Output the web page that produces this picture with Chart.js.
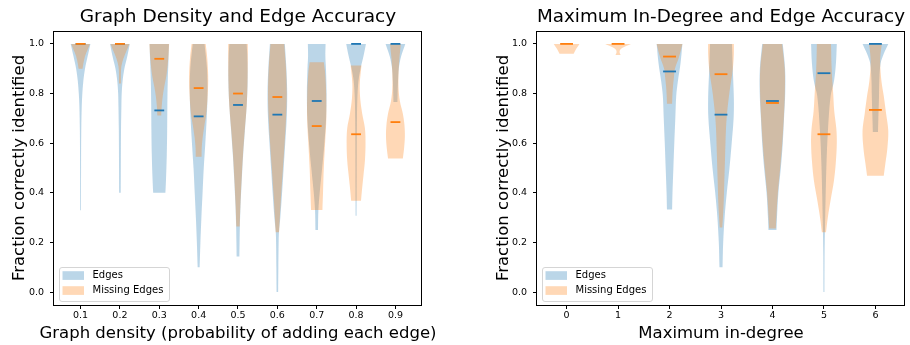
<!DOCTYPE html>
<html lang="en">
<head>
<meta charset="UTF-8">
<title>Edge accuracy violins</title>
<script src="https://cdn.jsdelivr.net/npm/chart.js"></script>
<style>
  body { margin: 0; background: #fff; }
  .panel { position: absolute; top: 0; width: 455px; height: 345px; }
</style>
</head>
<body>
<div class="panel" style="left:0"><canvas id="densityChart" width="455" height="345"></canvas></div>
<div class="panel" style="left:455px"><canvas id="degreeChart" width="455" height="345"></canvas></div>
<script>
// ---- values ----
const yTicks = [0, 0.2, 0.4, 0.6, 0.8, 1.0];

const densityLabels = ['0.1', '0.2', '0.3', '0.4', '0.5', '0.6', '0.7', '0.8', '0.9'];
const densityEdgeMeans = [1.0, 1.0, 0.732, 0.708, 0.754, 0.715, 0.77, 1.0, 1.0];
const densityMissingMeans = [1.0, 1.0, 0.94, 0.822, 0.80, 0.786, 0.669, 0.636, 0.685];
// violin outlines: [value, half width as share of the widest], bottom to top
const densityEdgeShapes = [
  [[0.33, 0.04], [0.5, 0.05], [0.65, 0.07], [0.75, 0.12], [0.8, 0.18], [0.85, 0.28], [0.9, 0.45], [0.95, 0.72], [1.0, 1.0]],
  [[0.40, 0.08], [0.5, 0.09], [0.65, 0.11], [0.75, 0.15], [0.8, 0.18], [0.85, 0.27], [0.9, 0.45], [0.95, 0.75], [1.0, 1.0]],
  [[0.40, 0.62], [0.45, 0.68], [0.55, 0.76], [0.65, 0.8], [0.75, 0.82], [0.85, 0.86], [0.95, 0.95], [1.0, 0.98]],
  [[0.10, 0.1], [0.2, 0.18], [0.3, 0.28], [0.4, 0.4], [0.5, 0.52], [0.6, 0.68], [0.7, 0.82], [0.8, 0.9], [0.9, 0.85], [1.0, 0.6]],
  [[0.143, 0.14], [0.2, 0.16], [0.264, 0.19], [0.35, 0.26], [0.45, 0.38], [0.55, 0.52], [0.65, 0.7], [0.75, 0.88], [0.85, 0.98], [0.95, 0.95], [1.0, 0.88]],
  [[0.0, 0.08], [0.1, 0.1], [0.2, 0.13], [0.24, 0.16], [0.3, 0.3], [0.4, 0.48], [0.5, 0.64], [0.6, 0.8], [0.7, 0.95], [0.8, 1.0], [0.9, 0.92], [1.0, 0.76]],
  [[0.25, 0.13], [0.33, 0.17], [0.4, 0.3], [0.5, 0.55], [0.6, 0.78], [0.7, 0.95], [0.8, 1.0], [0.9, 0.94], [0.95, 0.88], [1.0, 0.9]],
  [[0.308, 0.05], [0.4, 0.06], [0.55, 0.07], [0.7, 0.09], [0.78, 0.13], [0.85, 0.24], [0.9, 0.45], [0.95, 0.75], [1.0, 1.0]],
  [[0.766, 0.2], [0.8, 0.22], [0.85, 0.26], [0.9, 0.34], [0.95, 0.58], [1.0, 1.0]]
];
const densityMissingShapes = [
  [[0.90, 0.2], [0.92, 0.28], [0.95, 0.45], [0.975, 0.7], [1.0, 0.95]],
  [[0.84, 0.1], [0.88, 0.1], [0.91, 0.15], [0.94, 0.35], [0.97, 0.65], [1.0, 0.95]],
  [[0.712, 0.2], [0.745, 0.24], [0.786, 0.34], [0.826, 0.5], [0.88, 0.75], [0.946, 0.92], [1.0, 1.0]],
  [[0.545, 0.3], [0.58, 0.31], [0.62, 0.4], [0.67, 0.58], [0.72, 0.78], [0.8, 0.93], [0.87, 0.97], [0.94, 0.88], [1.0, 0.72]],
  [[0.264, 0.17], [0.35, 0.24], [0.45, 0.36], [0.55, 0.5], [0.65, 0.68], [0.75, 0.88], [0.85, 0.97], [0.95, 1.0], [1.0, 1.0]],
  [[0.241, 0.17], [0.3, 0.25], [0.4, 0.4], [0.5, 0.57], [0.6, 0.74], [0.7, 0.88], [0.8, 0.95], [0.9, 0.88], [1.0, 0.7]],
  [[0.331, 0.58], [0.4, 0.64], [0.5, 0.72], [0.6, 0.85], [0.7, 0.98], [0.8, 0.96], [0.88, 0.86], [0.926, 0.72]],
  [[0.368, 0.5], [0.42, 0.62], [0.47, 0.75], [0.53, 0.9], [0.6, 0.96], [0.66, 0.9], [0.72, 0.62], [0.78, 0.42], [0.84, 0.38], [0.913, 0.55]],
  [[0.538, 0.75], [0.58, 0.88], [0.63, 0.96], [0.68, 0.9], [0.72, 0.75], [0.77, 0.45], [0.82, 0.32], [0.88, 0.32], [0.94, 0.4], [1.0, 0.55]]
];

const degreeLabels = ['0', '1', '2', '3', '4', '5', '6'];
const degreeEdgeMeans = [null, null, 0.889, 0.715, 0.77, 0.882, 1.0];
const degreeMissingMeans = [1.0, 1.0, 0.949, 0.878, 0.762, 0.636, 0.734];
const degreeEdgeShapes = [
  null,
  null,
  [[0.333, 0.2], [0.4, 0.23], [0.5, 0.3], [0.6, 0.37], [0.7, 0.45], [0.79, 0.52], [0.85, 0.65], [0.92, 0.85], [1.0, 1.0]],
  [[0.1, 0.12], [0.2, 0.17], [0.3, 0.28], [0.4, 0.45], [0.5, 0.66], [0.6, 0.83], [0.7, 0.98], [0.78, 1.0], [0.88, 0.93], [1.0, 0.85]],
  [[0.25, 0.31], [0.3, 0.35], [0.4, 0.46], [0.5, 0.65], [0.6, 0.8], [0.7, 0.9], [0.8, 0.99], [0.9, 0.98], [1.0, 0.8]],
  [[0.0, 0.04], [0.15, 0.05], [0.25, 0.08], [0.384, 0.13], [0.52, 0.2], [0.65, 0.31], [0.79, 0.52], [0.85, 0.78], [0.92, 0.93], [1.0, 1.0]],
  [[0.645, 0.2], [0.7, 0.23], [0.79, 0.28], [0.86, 0.31], [0.92, 0.4], [0.96, 0.65], [1.0, 1.0]]
];
const degreeMissingShapes = [
  [[0.96, 0.55], [0.98, 0.75], [1.0, 1.0]],
  [[0.955, 0.2], [0.965, 0.12], [0.975, 0.15], [0.985, 0.35], [1.0, 1.0]],
  [[0.759, 0.2], [0.8, 0.23], [0.83, 0.27], [0.87, 0.35], [0.9, 0.42], [0.946, 0.73], [1.0, 1.0]],
  [[0.26, 0.1], [0.35, 0.2], [0.45, 0.26], [0.55, 0.32], [0.65, 0.38], [0.72, 0.47], [0.81, 0.67], [0.9, 0.92], [0.96, 1.0], [1.0, 1.0]],
  [[0.256, 0.26], [0.3, 0.3], [0.4, 0.42], [0.5, 0.6], [0.6, 0.76], [0.7, 0.88], [0.8, 0.96], [0.9, 0.95], [1.0, 0.75]],
  [[0.241, 0.16], [0.3, 0.3], [0.38, 0.55], [0.45, 0.78], [0.52, 0.92], [0.6, 1.0], [0.66, 0.96], [0.73, 0.8], [0.8, 0.72], [0.9, 0.6], [1.0, 0.55]],
  [[0.469, 0.65], [0.52, 0.78], [0.58, 0.93], [0.65, 1.0], [0.72, 0.83], [0.79, 0.65], [0.85, 0.47], [0.92, 0.37], [0.96, 0.4], [1.0, 0.5]]
];

// ---- styling ----
const HALF = 0.25; // widest half width of a violin, in axis units
const edgeFill = 'rgba(31, 119, 180, 0.3)';
const missingFill = 'rgba(255, 127, 14, 0.3)';
const edgeLine = '#1f77b4';
const missingLine = '#ff7f0e';

Chart.defaults.font.family = '"DejaVu Sans", sans-serif';
Chart.defaults.color = '#000';

function outline(shape, pos) {
  const left = shape.map(([y, w]) => ({x: pos - w * HALF, y: y}));
  const right = shape.map(([y, w]) => ({x: pos + w * HALF, y: y})).reverse();
  // top corners twice so the spline keeps the top edge flat
  return [...left, left[left.length - 1], right[0], ...right];
}

function violinSets(shapes, color, order) {
  return shapes.map((s, i) => s && {
    type: 'scatter',
    data: outline(s, i + 1),
    showLine: true,
    fill: 'shape',
    backgroundColor: color,
    borderWidth: 0,
    pointRadius: 0,
    tension: 0.35,
    order: order
  }).filter(Boolean);
}

function meanSet(means, color, order) {
  return {
    type: 'scatter',
    data: means.map((m, i) => m === null ? null : {x: i + 1, y: m}).filter(Boolean),
    pointStyle: 'line',
    // mean line is half the violin width long
    pointRadius: (ctx) => {
      const s = ctx.chart.scales.x;
      return Math.abs(s.getPixelForValue(1 + HALF / 2) - s.getPixelForValue(1));
    },
    pointBorderColor: color,
    pointBorderWidth: 1.8,
    order: order
  };
}

// legend inside the axes, the box frame and the x title (wider than the axis)
const frameLegend = {
  id: 'frameLegend',
  afterDatasetsDraw(chart, args, opts) {
    const {ctx, chartArea: a} = chart;
    ctx.save();
    const bx = a.left + 5.5, by = a.bottom - 37.5;
    ctx.beginPath();
    ctx.roundRect(bx, by, 110, 34, 2.5);
    ctx.fillStyle = 'rgba(255,255,255,0.8)';
    ctx.fill();
    ctx.strokeStyle = '#d5d5d5';
    ctx.lineWidth = 1;
    ctx.stroke();
    const items = [['Edges', edgeFill], ['Missing Edges', missingFill]];
    ctx.font = '10px "DejaVu Sans"';
    ctx.textBaseline = 'middle';
    items.forEach(([text, color], k) => {
      const cy = by + 8 + k * 15;
      ctx.fillStyle = color;
      ctx.fillRect(bx + 3, cy - 4.3, 21.5, 8.7);
      ctx.fillStyle = '#000';
      ctx.fillText(text, bx + 33, cy);
    });
    ctx.strokeStyle = '#000';
    ctx.lineWidth = 1;
    ctx.strokeRect(a.left - 0.5, a.top + 0.5, a.right - a.left, a.bottom - a.top);

    ctx.font = '16.5px "DejaVu Sans"';
    ctx.textAlign = 'center';
    ctx.fillStyle = '#000';
    ctx.fillText(opts.xTitle, (a.left + a.right) / 2, 333.6);
    ctx.restore();
  }
};

function makeChart(id, o) {
  const n = o.labels.length;
  return new Chart(document.getElementById(id), {
    type: 'scatter',
    data: {
      // bodies first, mean lines over them
      datasets: [
        ...violinSets(o.edgeShapes, edgeFill, 4),
        ...violinSets(o.missingShapes, missingFill, 3),
        meanSet(o.edgeMeans, edgeLine, 2),
        meanSet(o.missingMeans, missingLine, 1)
      ]
    },
    options: {
      responsive: false,
      animation: false,
      events: [],
      devicePixelRatio: 1,
      layout: {padding: {left: 0, right: o.rightPad, top: 0, bottom: 0}},
      plugins: {
        legend: {display: false},
        tooltip: {enabled: false},
        frameLegend: {xTitle: o.xTitle},
        title: {
          display: true,
          text: o.title,
          fullSize: false,
          font: {size: 18.5, weight: 'normal'},
          color: '#000',
          padding: {top: 6.5, bottom: 2.3}
        }
      },
      scales: {
        x: {
          type: 'linear',
          min: 1 - HALF - 0.05 * (n - 1 + 2 * HALF),
          max: n + HALF + 0.05 * (n - 1 + 2 * HALF),
          afterBuildTicks: (s) => { s.ticks = o.labels.map((_, i) => ({value: i + 1})); },
          afterFit: (s) => { s.height = 40; },
          ticks: {
            autoSkip: false,
            maxRotation: 0,
            padding: 1,
            font: {size: 9.5},
            callback: (v) => o.labels[Math.round(v) - 1]
          },
          grid: {drawOnChartArea: false, drawTicks: true, tickLength: 4, color: '#000'},
          border: {display: false}
        },
        y: {
          type: 'linear',
          min: -0.052,
          max: 1.052,
          afterBuildTicks: (s) => { s.ticks = yTicks.map((v) => ({value: v})); },
          afterFit: (s) => { s.width = o.yWidth; },
          ticks: {padding: 6, font: {size: 9.5}, callback: (v) => v.toFixed(1)},
          grid: {drawOnChartArea: false, drawTicks: true, tickLength: 4, color: '#000'},
          border: {display: false},
          title: {display: true, text: 'Fraction correctly identified', font: {size: 16.5}, padding: {top: o.yTitlePad, bottom: 0}}
        }
      }
    },
    plugins: [frameLegend]
  });
}

makeChart('densityChart', {
  title: 'Graph Density and Edge Accuracy',
  xTitle: 'Graph density (probability of adding each edge)',
  labels: densityLabels,
  edgeShapes: densityEdgeShapes,
  missingShapes: densityMissingShapes,
  edgeMeans: densityEdgeMeans,
  missingMeans: densityMissingMeans,
  rightPad: 33,
  yWidth: 54,
  yTitlePad: 9.4
});

makeChart('degreeChart', {
  title: 'Maximum In-Degree and Edge Accuracy',
  xTitle: 'Maximum in-degree',
  labels: degreeLabels,
  edgeShapes: degreeEdgeShapes,
  missingShapes: degreeMissingShapes,
  edgeMeans: degreeEdgeMeans,
  missingMeans: degreeMissingMeans,
  rightPad: 5,
  yWidth: 82,
  yTitlePad: 38.6
});
</script>
</body>
</html>
